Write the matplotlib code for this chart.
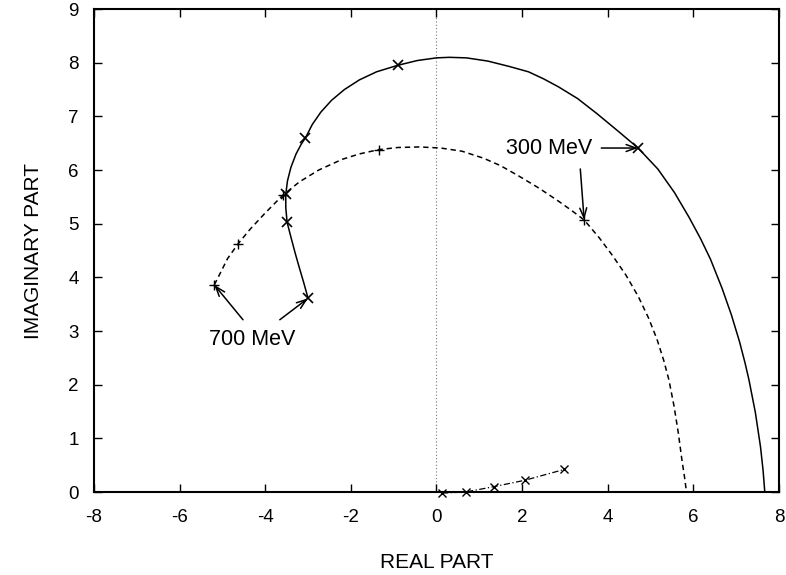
import matplotlib
matplotlib.use("Agg")
import matplotlib.pyplot as plt

plt.rcParams['font.family'] = ['Liberation Sans', 'DejaVu Sans']
plt.rcParams['axes.unicode_minus'] = False

# Solid trajectory (real, imaginary parts) and its marked energies
solid_re = [-3.00, -3.10, -3.20, -3.30, -3.40, -3.49, -3.52, -3.52, -3.48, -3.40, -3.28, -3.16,
            -3.06, -2.90, -2.70, -2.45, -2.15, -1.80, -1.40, -0.91, -0.45, 0.00, 0.30, 0.70,
            1.20, 1.70, 2.15, 2.50, 2.85, 3.30, 3.75, 4.25, 4.71, 5.17, 5.56, 5.90, 6.17,
            6.40, 6.67, 6.89, 7.08, 7.21, 7.30, 7.45, 7.57, 7.63, 7.67]
solid_im = [3.61, 3.90, 4.17, 4.45, 4.75, 5.03, 5.30, 5.55, 5.80, 6.05, 6.30, 6.48,
            6.60, 6.85, 7.08, 7.30, 7.50, 7.68, 7.83, 7.95, 8.04, 8.09, 8.10, 8.09,
            8.03, 7.93, 7.83, 7.70, 7.55, 7.33, 7.05, 6.72, 6.41, 6.02, 5.58, 5.12, 4.72,
            4.34, 3.80, 3.30, 2.80, 2.40, 2.09, 1.48, 0.84, 0.40, 0.00]
solid_mark_re = [-3.00, -3.49, -3.52, -3.06, -0.91, 4.71]
solid_mark_im = [3.61, 5.03, 5.55, 6.60, 7.95, 6.41]

# Dashed trajectory and its marked energies
dash_re = [-5.19, -5.05, -4.88, -4.63, -4.35, -4.00, -3.59, -3.20, -2.75, -2.20, -1.80,
           -1.35, -0.90, -0.40, 0.10, 0.60, 1.10, 1.50, 1.92, 2.40, 2.85, 3.15, 3.45,
           3.80, 4.10, 4.42, 4.71, 4.95, 5.15, 5.31, 5.43, 5.55, 5.65, 5.73, 5.80, 5.84]
dash_im = [3.86, 4.08, 4.35, 4.63, 4.90, 5.20, 5.53, 5.78, 6.00, 6.20, 6.30,
           6.38, 6.42, 6.43, 6.41, 6.35, 6.22, 6.08, 5.89, 5.66, 5.42, 5.25, 5.07,
           4.74, 4.42, 4.05, 3.65, 3.25, 2.85, 2.45, 2.09, 1.60, 1.10, 0.62, 0.25, 0.00]
dash_mark_re = [-5.19, -4.63, -3.59, -1.35, 3.45]
dash_mark_im = [3.86, 4.63, 5.53, 6.38, 5.07]

# Dash-dot trajectory near the real axis
dd_re = [0.13, 0.68, 1.34, 2.07, 2.98]
dd_im = [-0.02, 0.00, 0.10, 0.22, 0.42]

x_ticks = [-8, -6, -4, -2, 0, 2, 4, 6, 8]
y_ticks = [0, 1, 2, 3, 4, 5, 6, 7, 8, 9]

fig = plt.figure(figsize=(7.86, 5.75), dpi=100)
ax = fig.add_axes([0.1196, 0.1443, 0.8714, 0.8400])

ax.axvline(0, color='#777777', linestyle=(0, (1, 2)), linewidth=0.8, zorder=1)

ax.plot(solid_re, solid_im, color='black', linewidth=1.1, zorder=3)
ax.plot(solid_mark_re, solid_mark_im, linestyle='none', marker='x', markersize=7,
        markeredgewidth=1.2, color='black', zorder=4)

ax.plot(dash_re, dash_im, color='black', linewidth=1.1, linestyle=(0, (3.5, 2.5)), zorder=3)
ax.plot(dash_mark_re, dash_mark_im, linestyle='none', marker='+', markersize=7,
        markeredgewidth=1.0, color='black', zorder=4)

ax.plot(dd_re, dd_im, color='black', linewidth=0.9, linestyle=(0, (5, 2, 1, 2)),
        marker='x', markersize=6, markeredgewidth=1.0, zorder=3, clip_on=False)

arrow = dict(arrowstyle='->,head_length=0.7,head_width=0.25', color='black',
             linewidth=1.1, shrinkA=0, shrinkB=0)
ax.annotate('', xy=(-5.19, 3.86), xytext=(-4.52, 3.21), arrowprops=arrow)
ax.annotate('', xy=(-3.00, 3.61), xytext=(-3.66, 3.21), arrowprops=arrow)
ax.text(-4.31, 2.84, '700 MeV', fontsize=15.5, ha='center', va='center')

ax.annotate('', xy=(4.71, 6.41), xytext=(3.85, 6.41), arrowprops=arrow)
ax.annotate('', xy=(3.45, 5.07), xytext=(3.36, 6.02), arrowprops=arrow)
ax.text(2.63, 6.41, '300 MeV', fontsize=15.5, ha='center', va='center')

ax.set_xlim(-8, 8)
ax.set_ylim(0, 9)
ax.set_xticks(x_ticks)
ax.set_yticks(y_ticks)
ax.tick_params(direction='in', length=6, width=1.0, top=True, right=True,
               labelsize=13.5)
ax.tick_params(axis='x', pad=12)
ax.tick_params(axis='y', pad=11)
for s in ax.spines.values():
    s.set_linewidth(1.5)

ax.set_xlabel('REAL PART', fontsize=15, labelpad=20)
ax.set_ylabel('IMAGINARY PART', fontsize=15, labelpad=18)

fig.savefig('out.png', dpi=100)
